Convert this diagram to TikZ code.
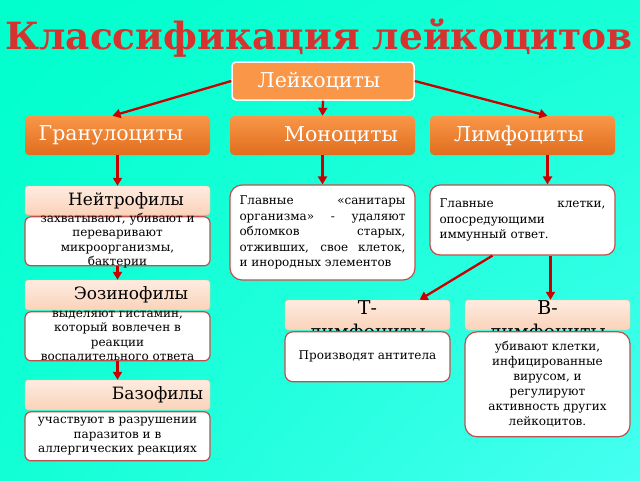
\documentclass[tikz,border=0pt]{standalone}
\usepackage{fontspec}
\setmainfont{DejaVu Serif}
\usetikzlibrary{positioning,arrows.meta,shadings}

\definecolor{bgA}{RGB}{0,255,204}
\definecolor{bgB}{RGB}{70,255,240}
\definecolor{orangeA}{RGB}{249,150,72}
\definecolor{orangeB}{RGB}{224,110,30}
\definecolor{peachA}{RGB}{253,236,224}
\definecolor{peachB}{RGB}{251,210,185}
\definecolor{peachC}{RGB}{247,185,135}
\definecolor{redline}{RGB}{192,80,77}
\definecolor{arrowred}{RGB}{200,0,0}
\definecolor{titlered}{RGB}{214,50,48}

% text that may run past its box
\newcommand{\spill}[1]{\smash{\raisebox{-3pt}{\begin{tabular}{@{}c@{}}#1\end{tabular}}}}

\begin{document}
\begin{tikzpicture}[x=1pt, y=-1pt, font=\fontsize{12}{14.5}\selectfont,
  rootbox/.style={draw=white, line width=1.5pt, fill=orangeA, rounded corners=4pt,
    minimum width=182pt, minimum height=38pt, text=white, font=\fontsize{20.5}{24}\selectfont},
  groupbox/.style={rounded corners=4pt, top color=orangeA, bottom color=orangeB,
    minimum width=185pt, minimum height=39pt, text=white, font=\fontsize{20.5}{24}\selectfont},
  kindbox/.style={draw=peachC, top color=peachA, bottom color=peachB, rounded corners=3pt,
    minimum width=185pt, minimum height=29pt, font=\fontsize{17}{20}\selectfont},
  infobox/.style={draw=redline, line width=1.2pt, fill=white, rounded corners=6pt,
    minimum width=185pt, inner sep=0pt, align=center},
  arr/.style={draw=arrowred, line width=2.3pt, -{Triangle[length=8pt,width=9pt]}}]
\useasboundingbox (0,0) rectangle (640,480);
\shade[upper left=bgA, upper right=bgA!70!bgB, lower left=bgA!75!bgB, lower right=bgB]
  (0,0) rectangle (640,480);

\node[text=titlered, font=\fontsize{37.5}{44}\bfseries] (title) at (319,38) {Классификация лейкоцитов};

% top levels
\node[rootbox] (leuk) at (323,81) {\hspace*{-8pt}Лейкоциты};
\node[groupbox] (gran) at (117.5,135.5) {\hspace*{-13pt}Гранулоциты};
\node[groupbox] (mono) at (322.5,135.5) {\hspace*{37pt}Моноциты};
\node[groupbox] (lymph) at (522.5,135.5) {\hspace*{-7pt}Лимфоциты};

% granulocytes
\node[kindbox] (neutH) at (117.5,200.5) {\hspace*{17pt}Нейтрофилы};
\node[infobox, minimum height=49pt, below=1pt of neutH] (neutD)
  {\spill{захватывают, убивают и\\переваривают\\микроорганизмы,\\бактерии}};
\node[kindbox, minimum height=30pt] (eosH) at (117.5,295) {\hspace*{27pt}Эозинофилы};
\node[infobox, minimum height=49pt, below=1pt of eosH] (eosD)
  {\spill{выделяют гистамин,\\который вовлечен в\\реакции\\воспалительного ответа}};
\node[kindbox, minimum height=30pt] (basH) at (117.5,395) {\hspace*{80pt}Базофилы};
\node[infobox, minimum height=49pt, below=1pt of basH] (basD)
  {участвуют в разрушении\\паразитов и в\\аллергических реакциях};

% monocytes, lymphocytes
\node[infobox, minimum height=95pt, rounded corners=12pt, text width=166pt, align=justify,
  font=\fontsize{12}{15.5}\selectfont] (monoD) at (322.5,232.5)
  {Главные «санитары\linebreak организма» - удаляют\linebreak обломков старых,\linebreak отживших, свое клеток,\linebreak и инородных элементов};
\node[infobox, minimum height=70pt, rounded corners=10pt, text width=166pt, align=justify,
  font=\fontsize{12}{15.5}\selectfont] (lymphD) at (522.5,220)
  {Главные клетки,\linebreak опосредующими\newline иммунный ответ.};

\node[kindbox, minimum width=165pt, minimum height=30pt, font=\fontsize{19}{22}\selectfont] (tH) at (367.5,315)
  {\smash{\raisebox{-11pt}{\begin{tabular}{@{}c@{}}Т-\\[2pt]лимфоциты\end{tabular}}}};
\node[infobox, minimum width=165pt, minimum height=50pt, rounded corners=8pt, below=1pt of tH] (tD)
  {Производят антитела};
\node[kindbox, minimum width=165pt, minimum height=30pt, font=\fontsize{19}{22}\selectfont] (bH) at (547.5,315)
  {\smash{\raisebox{-11pt}{\begin{tabular}{@{}c@{}}В-\\[2pt]лимфоциты\end{tabular}}}};
\node[infobox, minimum width=165pt, minimum height=105pt, rounded corners=12pt,
  font=\fontsize{12}{15}\selectfont, below=1pt of bH] (bD)
  {убивают клетки,\\инфицированные\\вирусом, и\\регулируют\\активность других\\лейкоцитов.};

% connectors
\draw[arr] (leuk.west) -- ([xshift=-5pt]gran.north);
\draw[arr] (leuk.south) -- (mono.north);
\draw[arr] (leuk.east) -- ([xshift=25pt]lymph.north);
\draw[arr] (gran.south) -- (neutH.north);
\draw[arr] (mono.south) -- (monoD.north);
\draw[arr] ([xshift=25pt]lymph.south) -- ([xshift=25pt]lymphD.north);
\draw[arr] (neutD.south) -- (eosH.north);
\draw[arr] (eosD.south) -- (basH.north);
\draw[arr] ([xshift=-30pt]lymphD.south) -- ([xshift=52pt]tH.north);
\draw[arr] ([xshift=28pt]lymphD.south) -- ([xshift=3pt]bH.north);
\end{tikzpicture}
\end{document}
